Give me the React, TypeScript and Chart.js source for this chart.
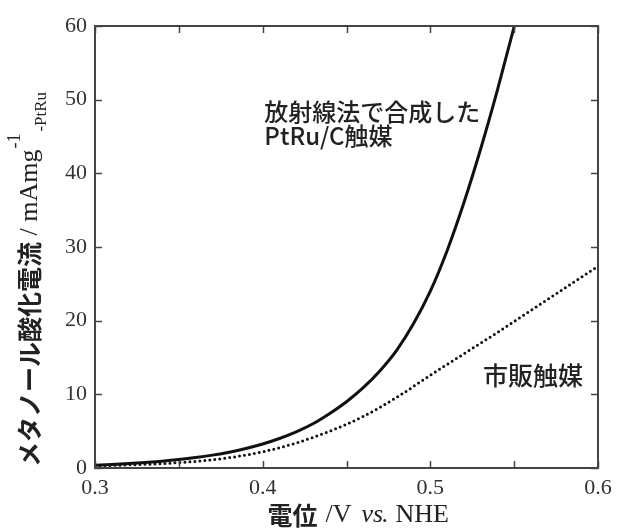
import React, { useEffect, useRef } from 'react';
import { Chart, registerables } from 'chart.js';

Chart.register(...registerables);

// Potential (V vs. NHE) and methanol oxidation current (mA mg^-1 PtRu)
const potentialPtRu = [0.30, 0.31, 0.32, 0.33, 0.34, 0.35, 0.36, 0.37, 0.38, 0.39, 0.40, 0.41, 0.42, 0.43, 0.44, 0.45, 0.46, 0.47, 0.48, 0.49, 0.50, 0.51, 0.52, 0.53, 0.54, 0.55, 0.56];
const currentPtRu = [0.37, 0.47, 0.6, 0.75, 0.93, 1.15, 1.42, 1.75, 2.15, 2.65, 3.25, 4.0, 4.9, 6.0, 7.4, 9.0, 10.9, 13.2, 16.0, 19.6, 24.0, 29.5, 36.0, 43.3, 51.3, 59.9, 69.0];

const potentialCommercial = [0.30, 0.32, 0.34, 0.36, 0.38, 0.40, 0.42, 0.44, 0.46, 0.48, 0.50, 0.52, 0.54, 0.56, 0.58, 0.60];
const currentCommercial = [0.3, 0.42, 0.6, 0.9, 1.4, 2.2, 3.4, 5.0, 7.0, 9.6, 12.6, 15.5, 18.4, 21.4, 24.4, 27.4];

const xMajorTicks = [0.3, 0.4, 0.5, 0.6];
const xMinorTicks = [0.35, 0.45, 0.55];
const yMajorTicks = [0, 10, 20, 30, 40, 50, 60];

const labelPtRu = ['放射線法で合成した', 'PtRu/C触媒'];
const labelPtRuAnchor = [0.401, 48.3];
const labelCommercial = '市販触媒';
const labelCommercialAnchor = [0.5314, 12.5];

const CJK = '"Noto Sans CJK JP", "Noto Sans", sans-serif';
const SERIF = '"Liberation Serif", "Times New Roman", serif';

const framePlugin = {
  id: 'frameAndText',
  afterDatasetsDraw(chart: any) {
    const { ctx, chartArea: a, scales } = chart;
    const x = scales.x;
    const y = scales.y;
    ctx.save();
    // frame
    ctx.strokeStyle = '#444';
    ctx.lineWidth = 2;
    ctx.strokeRect(a.left, a.top, a.right - a.left, a.bottom - a.top);
    // inward ticks
    const L = 7;
    ctx.lineWidth = 1.5;
    ctx.beginPath();
    [...xMajorTicks, ...xMinorTicks].forEach((v) => {
      const px = Math.round(x.getPixelForValue(v)) + 0.5;
      ctx.moveTo(px, a.bottom);
      ctx.lineTo(px, a.bottom - L);
      ctx.moveTo(px, a.top);
      ctx.lineTo(px, a.top + L);
    });
    yMajorTicks.forEach((v) => {
      const py = Math.round(y.getPixelForValue(v)) + 0.5;
      ctx.moveTo(a.left, py);
      ctx.lineTo(a.left + L, py);
      ctx.moveTo(a.right, py);
      ctx.lineTo(a.right - L, py);
    });
    ctx.stroke();

    // annotations
    ctx.fillStyle = '#222';
    ctx.textBaseline = 'middle';
    ctx.textAlign = 'left';
    ctx.font = `500 24px ${CJK}`;
    const ax = x.getPixelForValue(labelPtRuAnchor[0]);
    const ay = y.getPixelForValue(labelPtRuAnchor[1]);
    labelPtRu.forEach((t, i) => ctx.fillText(t, ax, ay + i * 24));
    ctx.font = `500 25px ${CJK}`;
    ctx.fillText(
      labelCommercial,
      x.getPixelForValue(labelCommercialAnchor[0]),
      y.getPixelForValue(labelCommercialAnchor[1])
    );
    ctx.restore();
  },
  afterDraw(chart: any) {
    const { ctx, chartArea: a } = chart;
    ctx.save();
    ctx.fillStyle = '#222';
    ctx.textAlign = 'left';

    // x-axis title: 電位 /V vs. NHE  (segment, font, offset from title start)
    const segsX: [string, string, number][] = [
      ['電位', `bold 25px ${CJK}`, 0],
      ['/V', `26px ${SERIF}`, 58],
      ['vs', `italic 26px ${SERIF}`, 94],
      ['.', `26px ${SERIF}`, 114],
      ['NHE', `26px ${SERIF}`, 128],
    ];
    const titleWidth = 182;
    const x0 = (a.left + a.right) / 2 + 12 - titleWidth / 2;
    const ty = a.bottom + 47;
    ctx.textBaseline = 'middle';
    segsX.forEach(([t, f, off]) => {
      ctx.font = f;
      ctx.fillText(t, x0 + off, ty);
    });

    // y-axis title (rotated)
    ctx.translate(29, a.bottom - 1);
    ctx.rotate(-Math.PI / 2);
    let u = 0;
    ctx.textBaseline = 'middle';
    ctx.font = `bold 25px ${CJK}`;
    const main = 'メタノール酸化電流';
    ctx.fillText(main, u, 0);
    u += ctx.measureText(main).width;
    ctx.font = `26px ${SERIF}`;
    const unit = ' / mAmg';
    ctx.fillText(unit, u, 1);
    u += ctx.measureText(unit).width + 1;
    ctx.font = `18px ${SERIF}`;
    ctx.fillText('-1', u, -14);
    u += ctx.measureText('-1').width + 2;
    ctx.font = `17px ${SERIF}`;
    ctx.fillText('-PtRu', u, 13);
    ctx.restore();
  },
};

export default function App() {
  const ref = useRef<HTMLCanvasElement | null>(null);

  useEffect(() => {
    if (!ref.current) return;
    const chart = new Chart(ref.current, {
      type: 'line',
      data: {
        datasets: [
          {
            label: '放射線法で合成したPtRu/C触媒',
            data: potentialPtRu.map((v, i) => ({ x: v, y: currentPtRu[i] })),
            borderColor: '#111',
            borderWidth: 3,
            pointRadius: 0,
            cubicInterpolationMode: 'monotone',
            clip: 0,
            fill: false,
          },
          {
            label: '市販触媒',
            data: potentialCommercial.map((v, i) => ({ x: v, y: currentCommercial[i] })),
            borderColor: '#111',
            borderWidth: 3,
            borderDash: [0, 5],
            borderCapStyle: 'round',
            pointRadius: 0,
            cubicInterpolationMode: 'monotone',
            clip: 0,
            fill: false,
          },
        ],
      },
      options: {
        animation: false,
        responsive: false,
        devicePixelRatio: 1,
        layout: { padding: { left: 0, right: 21, top: 26, bottom: 0 } },
        plugins: { legend: { display: false }, tooltip: { enabled: false } },
        scales: {
          x: {
            type: 'linear',
            min: 0.3,
            max: 0.6,
            grid: { display: false, drawTicks: false },
            border: { display: false },
            ticks: {
              stepSize: 0.1,
              padding: 7,
              maxRotation: 0,
              autoSkip: false,
              color: '#333',
              font: { family: SERIF, size: 22 },
              callback: (v: any) => Number(v).toFixed(1),
            },
            afterFit: (scale: any) => {
              scale.height = 63;
            },
          },
          y: {
            type: 'linear',
            min: 0,
            max: 60,
            grid: { display: false, drawTicks: false },
            border: { display: false },
            ticks: {
              stepSize: 10,
              padding: 8,
              color: '#333',
              font: { family: SERIF, size: 22 },
            },
            afterFit: (scale: any) => {
              scale.width = 95;
            },
          },
        },
      },
      plugins: [framePlugin],
    } as any);
    return () => chart.destroy();
  }, []);

  return (
    <div style={{ position: 'absolute', left: 0, top: 0, width: 619, height: 531, background: '#fff' }}>
      <canvas ref={ref} width={619} height={531} style={{ display: 'block' }} />
    </div>
  );
}
